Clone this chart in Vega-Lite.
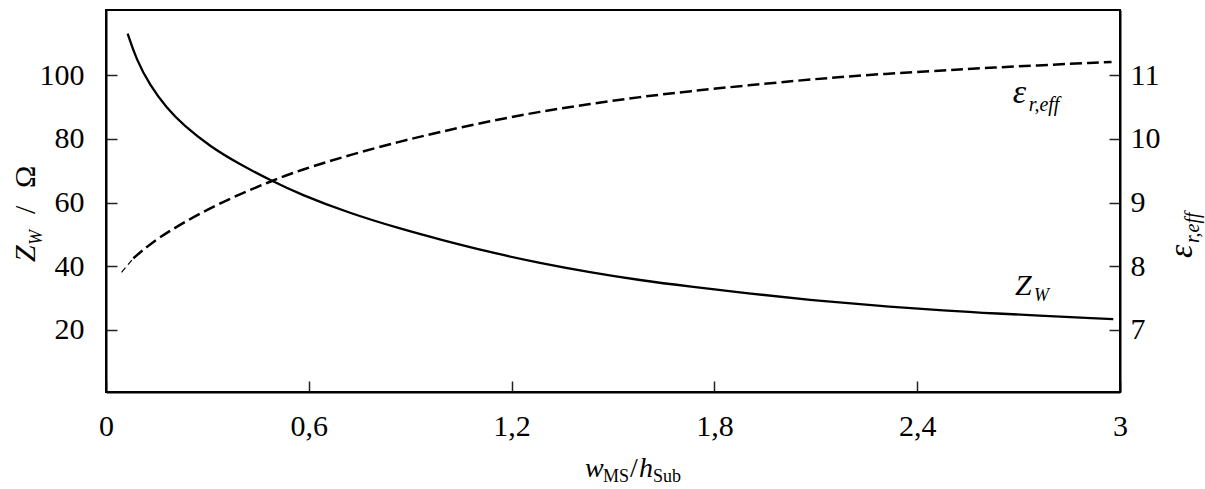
{
  "$schema": "https://vega.github.io/schema/vega-lite/v6.json",
  "width": 1014,
  "height": 382,
  "autosize": "none",
  "padding": {"left": 106, "top": 10, "right": 85, "bottom": 97},
  "background": "white",
  "config": {
    "view": {"stroke": "black", "strokeWidth": 2},
    "font": "Liberation Serif",
    "axis": {
      "domainColor": "black",
      "domainWidth": 2,
      "tickColor": "#222",
      "tickWidth": 1.5,
      "tickSize": -11,
      "labelFont": "Liberation Serif",
      "labelFontSize": 30,
      "labelColor": "black",
      "labelFlush": false,
      "labelOverlap": false,
      "labelBound": false,
      "grid": false,
      "title": null
    },
    "text": {"color": "black", "font": "Liberation Serif"}
  },
  "datasets": {
    "zw": [
      {"x": 0.064, "z": 113.1},
      {"x": 0.09, "z": 104.9},
      {"x": 0.13, "z": 96.8},
      {"x": 0.18, "z": 89.6},
      {"x": 0.229, "z": 84.3},
      {"x": 0.308, "z": 77.6},
      {"x": 0.396, "z": 72.0},
      {"x": 0.485, "z": 67.1},
      {"x": 0.574, "z": 62.6},
      {"x": 0.722, "z": 56.6},
      {"x": 0.87, "z": 51.8},
      {"x": 0.988, "z": 48.4},
      {"x": 1.136, "z": 44.4},
      {"x": 1.284, "z": 41.0},
      {"x": 1.432, "z": 38.1},
      {"x": 1.58, "z": 35.6},
      {"x": 1.728, "z": 33.6},
      {"x": 1.896, "z": 31.5},
      {"x": 2.093, "z": 29.3},
      {"x": 2.29, "z": 27.5},
      {"x": 2.497, "z": 26.0},
      {"x": 2.586, "z": 25.4},
      {"x": 2.98, "z": 23.4}
    ],
    "eps": [
      {"x": 0.046, "eps": 7.905, "seg": "thin"},
      {"x": 0.081, "eps": 8.125, "seg": "thin"},
      {"x": 0.081, "eps": 8.125, "seg": "main"},
      {"x": 0.13, "eps": 8.35, "seg": "main"},
      {"x": 0.189, "eps": 8.56, "seg": "main"},
      {"x": 0.278, "eps": 8.83, "seg": "main"},
      {"x": 0.377, "eps": 9.09, "seg": "main"},
      {"x": 0.485, "eps": 9.33, "seg": "main"},
      {"x": 0.574, "eps": 9.51, "seg": "main"},
      {"x": 0.722, "eps": 9.75, "seg": "main"},
      {"x": 0.87, "eps": 9.96, "seg": "main"},
      {"x": 0.988, "eps": 10.11, "seg": "main"},
      {"x": 1.136, "eps": 10.28, "seg": "main"},
      {"x": 1.284, "eps": 10.43, "seg": "main"},
      {"x": 1.432, "eps": 10.55, "seg": "main"},
      {"x": 1.58, "eps": 10.66, "seg": "main"},
      {"x": 1.728, "eps": 10.75, "seg": "main"},
      {"x": 1.896, "eps": 10.84, "seg": "main"},
      {"x": 2.093, "eps": 10.94, "seg": "main"},
      {"x": 2.29, "eps": 11.02, "seg": "main"},
      {"x": 2.497, "eps": 11.08, "seg": "main"},
      {"x": 2.576, "eps": 11.11, "seg": "main"},
      {"x": 2.975, "eps": 11.21, "seg": "main"}
    ],
    "notes": [
      {"id": "xtitle", "x": 1.417, "z": -26.3},
      {"id": "ytitle", "x": -0.21, "z": 41.3},
      {"id": "y2title", "x": 3.213, "z": 42.6},
      {"id": "epslabel", "x": 2.683, "z": 91.3},
      {"id": "zlabel", "x": 2.689, "z": 31.0}
    ]
  },
  "encoding": {
    "x": {
      "field": "x", "type": "quantitative",
      "scale": {"domain": [0, 3], "nice": false, "zero": false},
      "axis": {
        "orient": "bottom",
        "values": [0, 0.6, 1.2, 1.8, 2.4, 3],
        "labelExpr": "replace(format(datum.value, '~g'), '.', ',')",
        "labelPadding": 30
      }
    }
  },
  "layer": [
    {
      "encoding": {
        "y": {
          "field": "z", "type": "quantitative",
          "scale": {"domain": [0.5, 120.5], "nice": false, "zero": false},
          "axis": {"orient": "left", "values": [20, 40, 60, 80, 100], "labelPadding": 33}
        }
      },
      "layer": [
        {
          "data": {"name": "zw"},
          "mark": {"type": "line", "color": "black", "strokeWidth": 2.3, "interpolate": "basis"}
        },
        {
          "data": {"name": "notes"},
          "transform": [{"filter": "datum.id == 'xtitle'"}],
          "mark": {"type": "text", "text": "w", "fontStyle": "italic", "fontSize": 28, "align": "left", "baseline": "alphabetic", "dx": 0}
        },
        {
          "data": {"name": "notes"},
          "transform": [{"filter": "datum.id == 'xtitle'"}],
          "mark": {"type": "text", "text": "MS", "fontSize": 18, "align": "left", "baseline": "alphabetic", "dx": 18, "dy": 5}
        },
        {
          "data": {"name": "notes"},
          "transform": [{"filter": "datum.id == 'xtitle'"}],
          "mark": {"type": "text", "text": "/", "fontSize": 28, "align": "left", "baseline": "alphabetic", "dx": 45}
        },
        {
          "data": {"name": "notes"},
          "transform": [{"filter": "datum.id == 'xtitle'"}],
          "mark": {"type": "text", "text": "h", "fontStyle": "italic", "fontSize": 28, "align": "left", "baseline": "alphabetic", "dx": 54}
        },
        {
          "data": {"name": "notes"},
          "transform": [{"filter": "datum.id == 'xtitle'"}],
          "mark": {"type": "text", "text": "Sub", "fontSize": 18, "align": "left", "baseline": "alphabetic", "dx": 68, "dy": 5}
        },
        {
          "data": {"name": "notes"},
          "transform": [{"filter": "datum.id == 'ytitle'"}],
          "mark": {"type": "text", "text": "Z", "fontStyle": "italic", "fontSize": 30, "align": "left", "baseline": "alphabetic", "angle": 270, "dx": 0}
        },
        {
          "data": {"name": "notes"},
          "transform": [{"filter": "datum.id == 'ytitle'"}],
          "mark": {"type": "text", "text": "W", "fontStyle": "italic", "fontSize": 18, "align": "left", "baseline": "alphabetic", "angle": 270, "dx": 17, "dy": 7}
        },
        {
          "data": {"name": "notes"},
          "transform": [{"filter": "datum.id == 'ytitle'"}],
          "mark": {"type": "text", "text": "/", "fontSize": 30, "align": "left", "baseline": "alphabetic", "angle": 270, "dx": 48}
        },
        {
          "data": {"name": "notes"},
          "transform": [{"filter": "datum.id == 'ytitle'"}],
          "mark": {"type": "text", "text": "Ω", "fontSize": 30, "align": "left", "baseline": "alphabetic", "angle": 270, "dx": 74}
        },
        {
          "data": {"name": "notes"},
          "transform": [{"filter": "datum.id == 'y2title'"}],
          "mark": {"type": "text", "text": "ε", "fontStyle": "italic", "fontSize": 34, "align": "left", "baseline": "alphabetic", "angle": 270, "dx": 0}
        },
        {
          "data": {"name": "notes"},
          "transform": [{"filter": "datum.id == 'y2title'"}],
          "mark": {"type": "text", "text": "r,eff", "fontStyle": "italic", "fontSize": 20, "align": "left", "baseline": "alphabetic", "angle": 270, "dx": 15, "dy": 7}
        },
        {
          "data": {"name": "notes"},
          "transform": [{"filter": "datum.id == 'epslabel'"}],
          "mark": {"type": "text", "text": "ε", "fontStyle": "italic", "fontSize": 34, "align": "left", "baseline": "alphabetic", "dx": 0}
        },
        {
          "data": {"name": "notes"},
          "transform": [{"filter": "datum.id == 'epslabel'"}],
          "mark": {"type": "text", "text": "r,eff", "fontStyle": "italic", "fontSize": 20, "align": "left", "baseline": "alphabetic", "dx": 16, "dy": 8}
        },
        {
          "data": {"name": "notes"},
          "transform": [{"filter": "datum.id == 'zlabel'"}],
          "mark": {"type": "text", "text": "Z", "fontStyle": "italic", "fontSize": 30, "align": "left", "baseline": "alphabetic", "dx": 0}
        },
        {
          "data": {"name": "notes"},
          "transform": [{"filter": "datum.id == 'zlabel'"}],
          "mark": {"type": "text", "text": "W", "fontStyle": "italic", "fontSize": 18, "align": "left", "baseline": "alphabetic", "dx": 19, "dy": 6}
        }
      ]
    },
    {
      "data": {"name": "eps"},
      "encoding": {
        "y": {
          "field": "eps", "type": "quantitative",
          "scale": {"domain": [6.025, 12.025], "nice": false, "zero": false},
          "axis": {"orient": "right", "values": [7, 8, 9, 10, 11], "labelPadding": 21}
        }
      },
      "layer": [
        {
          "transform": [{"filter": "datum.seg == 'thin'"}],
          "mark": {"type": "line", "color": "black", "strokeWidth": 1.2, "strokeDash": [6, 4], "interpolate": "monotone"}
        },
        {
          "transform": [{"filter": "datum.seg == 'main'"}],
          "mark": {"type": "line", "color": "black", "strokeWidth": 2.5, "strokeDash": [12, 5], "interpolate": "basis"}
        }
      ]
    }
  ],
  "resolve": {"scale": {"y": "independent"}, "axis": {"y": "independent"}}
}
